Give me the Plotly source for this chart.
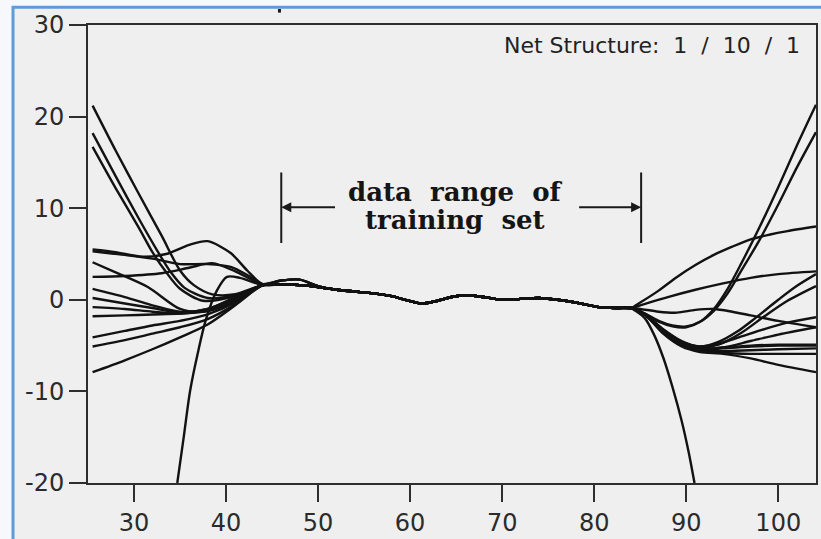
import plotly.graph_objects as go

# ---- shared middle section (training data range) ----
mid_x = [44, 46, 48, 50, 52, 54, 56, 58, 59.5, 61.3, 63, 64.5, 66, 68, 70, 72, 74, 76, 78, 80.5, 82.5, 84]
mid_y_a = [1.6, 1.7, 1.6, 1.4, 1.1, 0.9, 0.7, 0.4, 0.0, -0.4, -0.1, 0.3, 0.5, 0.3, 0.0, 0.1, 0.2, 0.0, -0.3, -0.8, -0.9, -0.9]
mid_y_b = [1.7, 2.1, 2.2, 1.5, 1.1, 0.9, 0.7, 0.4, 0.0, -0.4, -0.1, 0.3, 0.5, 0.3, 0.0, 0.1, 0.2, 0.0, -0.3, -0.8, -0.9, -0.9]

# ---- left extrapolation tails ----
c01_lx = [25.5, 28, 30.5, 33, 35, 36.5, 38.5, 41]
c01_ly = [21.2, 16.3, 11.6, 7.0, 3.2, 1.6, 0.6, 0.6]
c02_lx = [25.5, 28, 30.5, 32.5, 34, 35.5, 38, 41]
c02_ly = [18.2, 13.5, 8.9, 5.4, 3.0, 1.3, 0.2, 0.5]
c03_lx = [25.5, 28, 30.5, 32, 33.5, 35, 37.5, 41]
c03_ly = [16.7, 12.2, 7.9, 5.2, 3.0, 1.2, -0.1, 0.4]
c04_lx = [25.5, 28, 31, 33.5, 36, 38, 40.5, 42.3]
c04_ly = [5.5, 5.2, 4.7, 5.0, 6.0, 6.4, 5.1, 3.2]
c05_lx = [25.5, 29, 32, 35, 38, 40.5, 42.5]
c05_ly = [5.3, 4.9, 4.5, 3.9, 3.9, 3.6, 2.6]
c06_lx = [25.5, 28, 31.5, 35, 37.5, 40, 42.5]
c06_ly = [4.1, 3.0, 1.4, -1.0, -1.3, -0.6, 0.8]
c07_lx = [25.5, 29, 33, 36, 38.5, 41, 42.8]
c07_ly = [2.5, 2.6, 2.9, 3.5, 4.0, 3.1, 2.2]
fan_lx = [25.5, 29, 32, 35, 38, 41]
c08_ly = [1.2, 0.3, -0.6, -1.3, -1.0, 0.3]
c09_ly = [0.2, -0.4, -0.9, -1.4, -1.0, 0.2]
c10_ly = [-0.8, -1.0, -1.3, -1.5, -1.1, 0.1]
c11_ly = [-1.8, -1.7, -1.6, -1.5, -1.2, 0.0]
c12_ly = [-4.1, -3.4, -2.8, -2.3, -1.6, -0.3]
c13_ly = [-5.1, -4.4, -3.7, -3.0, -2.1, -0.5]
c14_ly = [-7.9, -6.6, -5.4, -4.1, -2.7, -0.6]
c15_lx = [34.7, 35.4, 36.1, 37, 37.8, 39, 40.1, 41.5]
c15_ly = [-20, -15, -9.9, -5.5, -2.2, 1.0, 2.5, 2.4]

# ---- right extrapolation tails ----
steep_rx = [85.5, 87, 88.5, 90, 91.5, 93, 94.5, 96, 98, 100, 102, 104.1]
c01_ry = [-1.5, -2.4, -2.9, -3.0, -2.4, -1.0, 1.2, 4.0, 8.0, 12.3, 16.8, 21.3]
c02_ry = [-1.5, -2.3, -2.8, -2.9, -2.4, -1.2, 0.7, 3.2, 6.6, 10.4, 14.4, 18.3]
flat_rx = [85.5, 87.5, 89.5, 91.5, 94, 97, 100, 104.1]
c03_ry = [-1.6, -3.4, -4.8, -5.4, -5.3, -5.1, -5.0, -5.0]
c04_rx = [85, 87, 89, 91, 93, 95, 97, 99, 101, 104.1]
c04_ry = [-0.3, 1.0, 2.5, 3.8, 4.9, 5.8, 6.6, 7.1, 7.5, 8.0]
c05_rx = [85, 88, 91, 94, 97, 100, 104.1]
c05_ry = [-0.6, 0.3, 1.1, 1.8, 2.4, 2.8, 3.1]
c06_rx = [85.5, 87.5, 89.5, 91.5, 93.5, 95.5, 97.5, 100, 102, 104.1]
c06_ry = [-1.6, -3.2, -4.5, -5.1, -4.6, -3.5, -2.0, 0.0, 1.5, 2.8]
c07_rx = [85, 87, 89, 91, 93, 95, 97, 100, 104.1]
c07_ry = [-1.0, -1.3, -1.4, -1.1, -1.0, -1.3, -1.7, -2.3, -3.0]
rise_rx = [85.5, 87.5, 89.5, 91.5, 93.5, 96, 98.5, 101, 104.1]
c08_ry = [-1.6, -3.3, -4.6, -5.2, -4.9, -3.6, -1.8, -0.1, 1.5]
c09_ry = [-1.6, -3.3, -4.6, -5.1, -4.8, -4.0, -3.2, -2.5, -1.9]
c10_ry = [-1.6, -3.4, -4.7, -5.3, -5.2, -4.5, -3.8, -3.0]
c11_ry = [-1.6, -3.5, -4.9, -5.5, -5.6, -5.5, -5.4, -5.3]
c12_ry = [-1.6, -3.6, -5.0, -5.6, -5.8, -5.9, -5.9, -5.9]
c13_ry = [-1.6, -3.7, -5.1, -5.7, -5.9, -6.4, -7.1, -7.9]
c14_ry = [-1.6, -3.5, -4.9, -5.4, -5.2, -5.0, -4.9, -4.9]
c15_rx = [84.5, 85.5, 86.5, 87.5, 88.5, 89.5, 90.3, 90.9]
c15_ry = [-1.2, -2.0, -3.8, -6.3, -9.5, -13.2, -16.8, -20.0]

# ---- tick labels ----
x_ticks = [30, 40, 50, 60, 70, 80, 90, 100]
x_tick_text = ["30", "40", "50", "60", "70", "80", "90", "100"]
y_ticks = [-20, -10, 0, 10, 20, 30]
y_tick_text = ["-20", "-10", "0", "10", "20", "30"]

curves = [
    (c01_lx, c01_ly, mid_y_a, steep_rx, c01_ry),
    (c02_lx, c02_ly, mid_y_a, steep_rx, c02_ry),
    (c03_lx, c03_ly, mid_y_a, flat_rx, c03_ry),
    (c04_lx, c04_ly, mid_y_b, c04_rx, c04_ry),
    (c05_lx, c05_ly, mid_y_b, c05_rx, c05_ry),
    (c06_lx, c06_ly, mid_y_a, c06_rx, c06_ry),
    (c07_lx, c07_ly, mid_y_b, c07_rx, c07_ry),
    (fan_lx, c08_ly, mid_y_a, rise_rx, c08_ry),
    (fan_lx, c09_ly, mid_y_a, rise_rx, c09_ry),
    (fan_lx, c10_ly, mid_y_a, flat_rx, c10_ry),
    (fan_lx, c11_ly, mid_y_a, flat_rx, c11_ry),
    (fan_lx, c12_ly, mid_y_a, flat_rx, c12_ry),
    (fan_lx, c13_ly, mid_y_a, flat_rx, c13_ry),
    (fan_lx, c14_ly, mid_y_a, flat_rx, c14_ry),
    (c15_lx, c15_ly, mid_y_a, c15_rx, c15_ry),
]

fig = go.Figure()
for lx, ly, my, rx, ry in curves:
    fig.add_trace(go.Scatter(
        x=list(lx) + list(mid_x) + list(rx),
        y=list(ly) + list(my) + list(ry),
        mode="lines",
        line=dict(color="#121212", width=2.4, shape="spline", smoothing=0.8),
        hoverinfo="skip",
        showlegend=False,
    ))

axis_common = dict(
    showline=True, linecolor="#2e2e2e", linewidth=2, mirror=True,
    ticks="outside", ticklen=17, tickwidth=2, tickcolor="#2e2e2e",
    showgrid=False, zeroline=False, automargin=False,
    tickfont=dict(family="DejaVu Sans", size=24, color="#2b2b2b"),
)

fig.update_layout(
    width=821, height=539,
    margin=dict(l=88, r=5, t=25, b=56),
    paper_bgcolor="#f7f8fb",
    plot_bgcolor="#efefef",
    xaxis=dict(range=[25, 104.1], tickvals=x_ticks, ticktext=x_tick_text, **axis_common),
    yaxis=dict(range=[-20, 30], tickvals=y_ticks, ticktext=y_tick_text, **axis_common),
    shapes=[
        dict(type="rect", xref="paper", yref="paper", x0=-0.103, x1=1.03, y0=-0.15, y1=1.039,
             line=dict(color="#5f9bd6", width=3), fillcolor="#efefef", layer="below"),
        dict(type="line", xref="x", yref="y", x0=46.0, x1=46.0, y0=6.2, y1=13.9,
             line=dict(color="#1a1a1a", width=2)),
        dict(type="line", xref="x", yref="y", x0=85.1, x1=85.1, y0=6.2, y1=13.9,
             line=dict(color="#1a1a1a", width=2)),
        dict(type="line", xref="paper", yref="paper", x0=0.263, x1=0.263, y0=1.027, y1=1.035,
             line=dict(color="#1a1a1a", width=3)),
    ],
    annotations=[
        dict(x=46.0, y=10.1, ax=52.0, ay=10.1, xref="x", yref="y", axref="x", ayref="y",
             text="", showarrow=True, arrowhead=2, arrowsize=1, arrowwidth=2, arrowcolor="#1a1a1a"),
        dict(x=85.1, y=10.1, ax=78.2, ay=10.1, xref="x", yref="y", axref="x", ayref="y",
             text="", showarrow=True, arrowhead=2, arrowsize=1, arrowwidth=2, arrowcolor="#1a1a1a"),
        dict(x=64.9, y=11.75, xref="x", yref="y", showarrow=False,
             text="data\u00a0 range\u00a0 of",
             font=dict(family="DejaVu Serif", size=26, color="#151515", weight="bold")),
        dict(x=64.9, y=8.7, xref="x", yref="y", showarrow=False,
             text="training\u00a0 set",
             font=dict(family="DejaVu Serif", size=26, color="#151515", weight="bold")),
        dict(x=0.981, y=0.956, xref="paper", yref="paper", xanchor="right", yanchor="middle",
             showarrow=False, text="Net Structure:\u00a0 1\u00a0 /\u00a0 10\u00a0 /\u00a0 1",
             font=dict(family="DejaVu Sans", size=22, color="#222222")),
    ],
)

fig.write_html(
    "out.html",
    config={"displayModeBar": False},
    post_script="document.body.style.margin='0';document.body.style.overflow='hidden';",
)
